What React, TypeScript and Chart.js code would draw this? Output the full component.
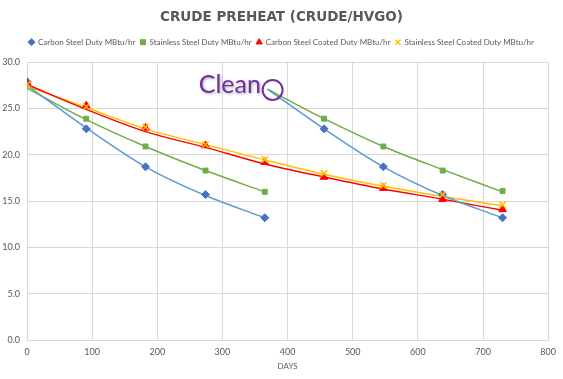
import React, { useEffect, useRef } from "react";
import { Chart, registerables } from "chart.js";

Chart.register(...registerables);

// ---- data ----
const chartTitle = "CRUDE PREHEAT (CRUDE/HVGO)";
const xAxisTitle = "DAYS";
const seriesNames = [
  "Carbon Steel Duty MBtu/hr",
  "Stainless Steel Duty MBtu/hr",
  "Carbon Steel Coated Duty MBtu/hr",
  "Stainless Steel Coated Duty MBtu/hr",
];
const days = [0, 91, 182, 274, 365, 456, 547, 638, 730];
const carbonSteel = [27.9, 22.8, 18.7, 15.7, 13.2, 22.8, 18.7, 15.7, 13.2];
const stainlessSteel = [27.6, 23.9, 20.9, 18.3, 16.0, 23.9, 20.9, 18.3, 16.1];
const carbonCoated = [27.8, 25.3, 22.9, 21.0, 19.2, 17.6, 16.4, 15.2, 14.1];
const stainlessCoated = [27.6, 25.2, 23.0, 21.1, 19.5, 18.0, 16.7, 15.7, 14.6];

// trendlines
const trendDays1 = [0, 91, 182, 274, 365];
const carbonTrend1 = [27.5, 22.9, 18.7, 15.6, 13.2];
const stainlessTrend1 = [27.2, 23.8, 20.9, 18.3, 16.0];
const trendDays2 = [369, 456, 547, 638, 730];
const carbonTrend2 = [27.1, 22.8, 18.7, 15.6, 13.2];
const stainlessTrend2 = [27.1, 23.9, 20.9, 18.4, 16.0];
const carbonCoatedTrend = [27.6, 24.9, 22.5, 20.8, 19.0, 17.6, 16.3, 15.2, 14.0];
const stainlessCoatedTrend = [27.4, 25.1, 22.8, 21.1, 19.45, 17.9, 16.6, 15.5, 14.5];

const xTicks = [0, 100, 200, 300, 400, 500, 600, 700, 800];
const yTicks = [0, 5, 10, 15, 20, 25, 30];

const annotationText = "Clean";
const annotationTextAt = { day: 359, value: 26.7 };
const annotationCircleAt = { day: 377, value: 27.0 };

// ---- styles ----
const COLORS = {
  carbon: "#4472C4",
  carbonTrend: "#5B9BD5",
  stainless: "#70AD47",
  coated: "#FF0000",
  stainlessCoated: "#FFC000",
  text: "#595959",
  grid: "#D9D9D9",
  purple: "#7030A0",
};

const pts = (xs: number[], ys: number[]) => xs.map((x, i) => ({ x, y: ys[i] }));

const legendSpacer = {
  id: "legendSpacer",
  afterInit(chart: any) {
    const lg = chart.legend;
    if (!lg) return;
    const orig = lg.fit;
    lg.fit = function (this: any) {
      orig.call(this);
      this.height += 6;
    };
  },
};

const annotationPlugin = {
  id: "cleanAnnotation",
  afterDatasetsDraw(chart: any) {
    const { ctx, scales } = chart;
    const x = scales.x.getPixelForValue(annotationTextAt.day);
    const y = scales.y.getPixelForValue(annotationTextAt.value);
    ctx.save();
    ctx.font = "25px Lato";
    ctx.fillStyle = COLORS.purple;
    ctx.textAlign = "right";
    ctx.textBaseline = "alphabetic";
    ctx.shadowColor = "rgba(0,0,0,0.35)";
    ctx.shadowBlur = 3;
    ctx.shadowOffsetX = 1;
    ctx.shadowOffsetY = 1;
    ctx.fillText(annotationText, x, y);
    ctx.restore();
    const cx = scales.x.getPixelForValue(annotationCircleAt.day);
    const cy = scales.y.getPixelForValue(annotationCircleAt.value);
    ctx.save();
    ctx.strokeStyle = COLORS.purple;
    ctx.lineWidth = 2;
    ctx.beginPath();
    ctx.arc(cx, cy, 10, 0, Math.PI * 2);
    ctx.stroke();
    ctx.restore();
  },
};

export default function App() {
  const ref = useRef<HTMLCanvasElement>(null);
  useEffect(() => {
    if (!ref.current) return;
    const markerBase = { showLine: false, borderWidth: 1 };
    const trendBase = {
      showLine: true,
      pointRadius: 0,
      borderWidth: 1.5,
      cubicInterpolationMode: "monotone" as const,
      order: 10,
      isTrend: true,
    };
    const chart = new Chart(ref.current, {
      type: "scatter",
      data: {
        datasets: [
          {
            ...markerBase,
            label: seriesNames[0],
            data: pts(days, carbonSteel),
            pointStyle: "rectRot",
            pointRadius: 4,
            backgroundColor: COLORS.carbon,
            borderColor: COLORS.carbon,
            order: 4,
          },
          {
            ...markerBase,
            label: seriesNames[1],
            data: pts(days, stainlessSteel),
            pointStyle: "rect",
            pointRadius: 3.5,
            backgroundColor: COLORS.stainless,
            borderColor: COLORS.stainless,
            order: 3,
          },
          {
            ...markerBase,
            label: seriesNames[2],
            data: pts(days, carbonCoated),
            pointStyle: "triangle",
            pointRadius: 4.5,
            backgroundColor: COLORS.coated,
            borderColor: COLORS.coated,
            order: 2,
          },
          {
            ...markerBase,
            label: seriesNames[3],
            data: pts(days, stainlessCoated),
            pointStyle: "crossRot",
            pointRadius: 4.5,
            borderWidth: 1.5,
            backgroundColor: COLORS.stainlessCoated,
            borderColor: COLORS.stainlessCoated,
            order: 1,
          },
          { ...trendBase, label: "t1", data: pts(trendDays1, carbonTrend1), borderColor: COLORS.carbonTrend },
          { ...trendBase, label: "t2", data: pts(trendDays1, stainlessTrend1), borderColor: COLORS.stainless },
          { ...trendBase, label: "t3", data: pts(trendDays2, carbonTrend2), borderColor: COLORS.carbonTrend },
          { ...trendBase, label: "t4", data: pts(trendDays2, stainlessTrend2), borderColor: COLORS.stainless },
          { ...trendBase, label: "t5", data: pts(days, carbonCoatedTrend), borderColor: COLORS.coated },
          { ...trendBase, label: "t6", data: pts(days, stainlessCoatedTrend), borderColor: COLORS.stainlessCoated },
        ] as any,
      },
      options: {
        animation: false,
        responsive: false,
        maintainAspectRatio: false,
        layout: { padding: { left: 0, right: 0, top: 0, bottom: 0 } },
        plugins: {
          tooltip: { enabled: false },
          title: {
            display: true,
            text: chartTitle,
            color: COLORS.text,
            font: { family: "'DejaVu Sans'", size: 13.5, weight: "bold" },
            padding: { top: 9, bottom: 8 },
          },
          legend: {
            display: true,
            labels: {
              filter: (item: any, data: any) => !data.datasets[item.datasetIndex].isTrend,
              sort: (a: any, b: any) => a.datasetIndex - b.datasetIndex,
              usePointStyle: true,
              boxWidth: 5,
              boxHeight: 5,
              padding: 5,
              color: COLORS.text,
              font: { family: "Lato", size: 8 },
            },
          },
        },
        scales: {
          x: {
            type: "linear",
            min: 0,
            max: 800,
            afterBuildTicks: (s: any) => {
              s.ticks = xTicks.map((v) => ({ value: v }));
            },
            afterFit: (s: any) => {
              s.height = 39;
            },
            grid: { color: COLORS.grid, drawTicks: false },
            border: { color: COLORS.grid },
            ticks: { color: COLORS.text, font: { family: "Lato", size: 9 }, padding: 7, maxRotation: 0 },
            title: {
              display: true,
              text: xAxisTitle,
              color: COLORS.text,
              font: { family: "Lato", size: 8 },
              padding: { top: 0, bottom: 8 },
            },
          },
          y: {
            type: "linear",
            min: 0,
            max: 30,
            afterBuildTicks: (s: any) => {
              s.ticks = yTicks.map((v) => ({ value: v }));
            },
            afterFit: (s: any) => {
              s.width = 27;
            },
            grid: { color: COLORS.grid, drawTicks: false },
            border: { display: false },
            ticks: {
              color: COLORS.text,
              font: { family: "Lato", size: 9 },
              padding: 7,
              callback: (v: any) => Number(v).toFixed(1),
            },
          },
          yRightSpace: {
            type: "linear",
            position: "right",
            min: 0,
            max: 30,
            display: true,
            grid: { display: false, drawTicks: false },
            border: { display: false },
            ticks: { display: false },
            afterFit: (s: any) => {
              s.width = 14;
            },
          },
        },
      },
      plugins: [legendSpacer, annotationPlugin],
    });
    return () => chart.destroy();
  }, []);
  return (
    <div style={{ position: "fixed", left: 0, top: 0, width: 563, height: 379, background: "#fff" }}>
      <canvas ref={ref} width={563} height={379} style={{ width: 563, height: 379 }} />
    </div>
  );
}
